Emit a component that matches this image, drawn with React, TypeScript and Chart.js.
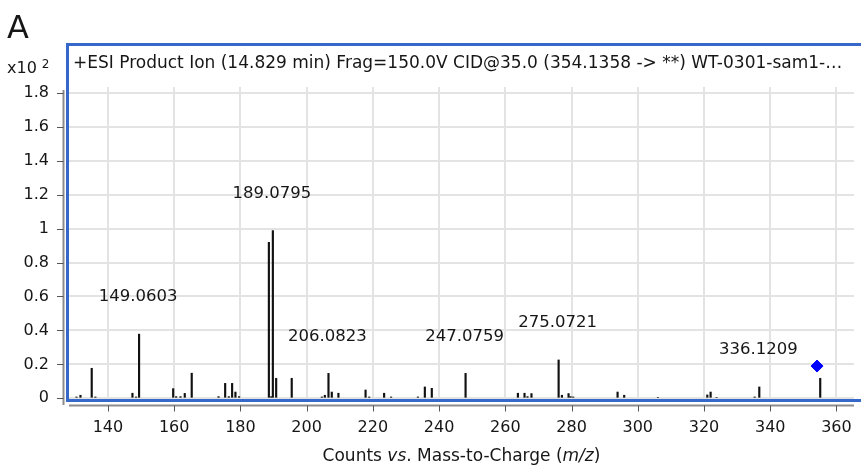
import React, { useEffect, useRef } from 'react';
import { Chart, registerables } from 'chart.js';

Chart.register(...registerables);

// ---- data (intensity in units of x10^2 counts) ----
const peakMz = [
  130.5, 131.7, 135.1, 136.2, 147.4, 148.5, 149.4, 159.7, 160.6, 161.9,
  163.2, 165.3, 173.4, 175.4, 176.5, 177.5, 178.5, 179.6, 188.6, 189.3,
  189.8, 190.8, 195.5, 204.6, 205.5, 206.6, 207.6, 209.6, 217.8, 218.9,
  223.4, 225.5, 233.6, 235.7, 237.8, 248.0, 263.8, 265.8, 266.7, 267.9,
  276.1, 277.1, 279.1, 279.7, 280.5, 293.9, 295.9, 306.1, 321.0, 322.0,
  323.8, 335.3, 336.7, 355.1,
];
const peakIntensity = [
  0.008, 0.018, 0.177, 0.008, 0.030, 0.008, 0.378, 0.057, 0.010, 0.010,
  0.029, 0.148, 0.010, 0.088, 0.010, 0.088, 0.037, 0.010, 0.919, 0.010,
  0.988, 0.118, 0.118, 0.008, 0.018, 0.147, 0.037, 0.030, 0.049, 0.008,
  0.030, 0.008, 0.008, 0.067, 0.059, 0.147, 0.030, 0.030, 0.010, 0.028,
  0.226, 0.018, 0.028, 0.010, 0.008, 0.037, 0.018, 0.006, 0.020, 0.037,
  0.006, 0.008, 0.067, 0.118,
];
const precursorMz = [354.1358];
const precursorIntensity = [0.19];

const annotationText = ['149.0603', '189.0795', '206.0823', '247.0759', '275.0721', '336.1209'];
const annotationPeakMz = [149.4, 189.8, 206.6, 248.0, 276.1, 336.7];

const xTickValues = [140, 160, 180, 200, 220, 240, 260, 280, 300, 320, 340, 360];
const yTickValues = [0, 0.2, 0.4, 0.6, 0.8, 1.0, 1.2, 1.4, 1.6, 1.8];

const xMin = 128.24;
const xMax = 365.3;
const yMin = -0.004;
const yMax = 1.834;

const titleText = '+ESI Product Ion (14.829 min) Frag=150.0V CID@35.0 (354.1358 -> **) WT-0301-sam1-\u2026';
const panelLabel = 'A';
const xAxisTitleParts: [string, boolean][] = [
  ['Counts ', false],
  ['vs', true],
  ['. Mass-to-Charge (', false],
  ['m/z', true],
  [')', false],
];

const FONT = '"DejaVu Sans", "Liberation Sans", sans-serif';
const TEXT = '#161616';
const FRAME_BLUE = '#3568c8';

const decorPlugin = {
  id: 'decor',
  afterDatasetsDraw(chart: any) {
    const { ctx, chartArea: ca, scales } = chart;
    const xs = scales.x;
    const ys = scales.y;
    ctx.save();

    // peak annotations
    ctx.fillStyle = TEXT;
    ctx.font = `16.5px ${FONT}`;
    ctx.textAlign = 'center';
    ctx.textBaseline = 'middle';
    annotationText.forEach((t, i) => {
      const mz = annotationPeakMz[i];
      const idx = peakMz.indexOf(mz);
      const px = xs.getPixelForValue(mz) - 1;
      const py = ys.getPixelForValue(peakIntensity[idx]) - 37;
      ctx.fillText(t, px, py);
    });

    // blue frame (top, left, bottom)
    ctx.strokeStyle = FRAME_BLUE;
    ctx.lineWidth = 3;
    ctx.beginPath();
    ctx.moveTo(chart.width, 44.5);
    ctx.lineTo(ca.left - 1.5, 44.5);
    ctx.lineTo(ca.left - 1.5, ca.bottom + 1.5);
    ctx.lineTo(chart.width, ca.bottom + 1.5);
    ctx.stroke();

    // title inside frame
    ctx.fillStyle = TEXT;
    ctx.font = `17px ${FONT}`;
    ctx.textAlign = 'left';
    ctx.textBaseline = 'middle';
    ctx.fillText(titleText, 73, 63.5);

    // axes lines (offset outside the frame)
    ctx.strokeStyle = '#8c8c8c';
    ctx.lineWidth = 2;
    ctx.beginPath();
    const yAxisX = ca.left - 5.5;
    ctx.moveTo(yAxisX, ca.top + 3);
    ctx.lineTo(yAxisX, ca.bottom + 6);
    const xAxisY = ca.bottom + 6.5;
    ctx.moveTo(ca.left, xAxisY);
    ctx.lineTo(ca.right, xAxisY);
    ctx.stroke();

    ctx.strokeStyle = '#555';
    ctx.lineWidth = 1;
    ctx.beginPath();
    ys.ticks.forEach((t: any) => {
      const p = Math.round(ys.getPixelForValue(t.value)) + 0.5;
      ctx.moveTo(yAxisX - 6.5, p);
      ctx.lineTo(yAxisX, p);
    });
    xs.ticks.forEach((t: any) => {
      const p = Math.round(xs.getPixelForValue(t.value)) + 0.5;
      ctx.moveTo(p, xAxisY);
      ctx.lineTo(p, xAxisY + 6);
    });
    ctx.stroke();

    // panel label and exponent
    ctx.fillStyle = TEXT;
    ctx.textAlign = 'left';
    ctx.textBaseline = 'alphabetic';
    ctx.font = `32px ${FONT}`;
    ctx.fillText(panelLabel, 7, 38);
    ctx.font = `16px ${FONT}`;
    ctx.fillText('x10', 7, 73);
    const w10 = ctx.measureText('x10').width;
    ctx.font = `12px ${FONT}`;
    ctx.fillText('2', 7 + w10 + 5, 68);

    // x axis title with italics
    let total = 0;
    xAxisTitleParts.forEach(([s, it]) => {
      ctx.font = `${it ? 'italic ' : ''}17px ${FONT}`;
      total += ctx.measureText(s).width;
    });
    let x = (ca.left + ca.right) / 2 - total / 2;
    ctx.textBaseline = 'middle';
    xAxisTitleParts.forEach(([s, it]) => {
      ctx.font = `${it ? 'italic ' : ''}17px ${FONT}`;
      ctx.fillText(s, x, 456.5);
      x += ctx.measureText(s).width;
    });

    ctx.restore();
  },
};

export default function App() {
  const canvasRef = useRef<HTMLCanvasElement | null>(null);

  useEffect(() => {
    const canvas = canvasRef.current;
    if (!canvas) return;
    const zeroPad = (s: any) => {
      s.paddingLeft = 0;
      s.paddingRight = 0;
      s.paddingTop = 0;
      s.paddingBottom = 0;
    };
    const chart = new Chart(canvas, {
      type: 'bar',
      data: {
        datasets: [
          {
            type: 'bar',
            data: peakMz.map((m, i) => ({ x: m, y: peakIntensity[i] })),
            backgroundColor: '#111111',
            borderWidth: 0,
            barThickness: 1.5,
            grouped: false,
            order: 2,
          } as any,
          {
            type: 'scatter',
            data: precursorMz.map((m, i) => ({ x: m, y: precursorIntensity[i] })),
            pointStyle: 'rectRot',
            pointRadius: 6,
            backgroundColor: '#0000ff',
            borderColor: '#0000ff',
            borderWidth: 1,
            order: 1,
          } as any,
        ],
      },
      options: {
        animation: false,
        responsive: false,
        devicePixelRatio: 1,
        layout: { padding: { top: 87, left: 0, right: 0, bottom: 0 } },
        plugins: {
          legend: { display: false },
          tooltip: { enabled: false },
        },
        scales: {
          x: {
            type: 'linear',
            min: xMin,
            max: xMax,
            offset: false,
            border: { display: false },
            grid: { offset: false, color: '#e3e3e3', lineWidth: 2, drawTicks: false },
            afterBuildTicks: (s: any) => {
              s.ticks = xTickValues.map((v) => ({ value: v }));
            },
            ticks: {
              autoSkip: false,
              maxRotation: 0,
              padding: 19,
              color: TEXT,
              font: { family: FONT, size: 16 },
              callback: (v: any) => String(v),
            },
            afterFit: (s: any) => {
              s.height = 68;
              zeroPad(s);
            },
          },
          y: {
            type: 'linear',
            min: yMin,
            max: yMax,
            border: { display: false },
            grid: { color: '#e3e3e3', lineWidth: 2, drawTicks: false },
            afterBuildTicks: (s: any) => {
              s.ticks = yTickValues.map((v) => ({ value: v }));
            },
            ticks: {
              autoSkip: false,
              padding: 20,
              color: TEXT,
              font: { family: FONT, size: 16 },
              callback: (v: any) => String(Math.round(Number(v) * 10) / 10),
            },
            afterFit: (s: any) => {
              s.width = 69;
              zeroPad(s);
            },
          },
        },
      } as any,
      plugins: [decorPlugin],
    });
    return () => chart.destroy();
  }, []);

  return (
    <div style={{ position: 'fixed', left: 0, top: 0, width: 861, height: 467, background: '#fff' }}>
      <canvas ref={canvasRef} width={861} height={467} style={{ display: 'block', width: 861, height: 467 }} />
    </div>
  );
}
